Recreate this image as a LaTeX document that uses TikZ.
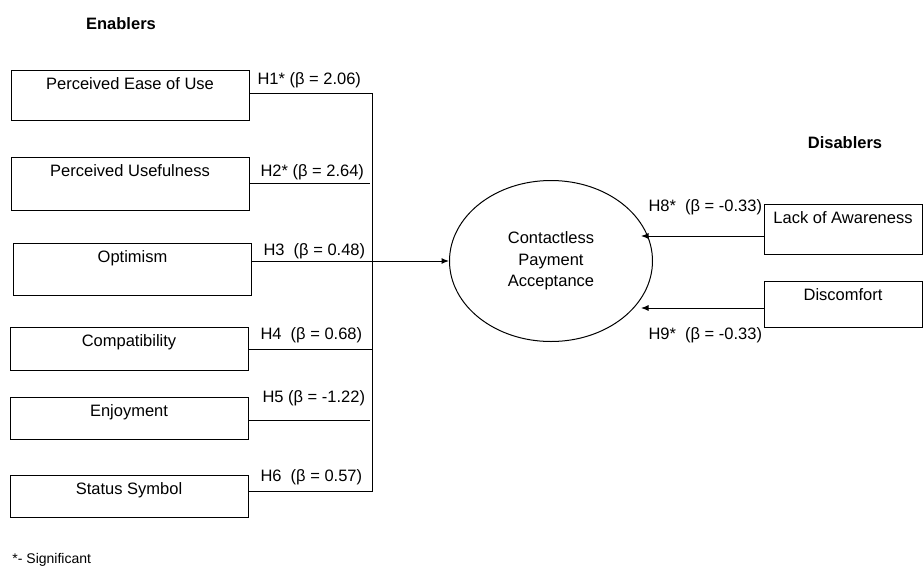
\documentclass[tikz,border=0pt]{standalone}
\usepackage{fontspec}
\setmainfont{Liberation Sans}
\usetikzlibrary{positioning,shapes.geometric,arrows.meta}

\tikzset{
  factor/.style={draw, minimum width=238pt, inner sep=0pt},
  ftext/.style={inner sep=0pt, font=\fontsize{16.5}{19.5}\selectfont},
  hyp/.style={anchor=west, inner sep=0pt, font=\fontsize{16.5}{19.5}\selectfont},
  head/.style={inner sep=0pt, font=\bfseries\fontsize{16.5}{19.5}\selectfont},
  tip/.style={-{Latex[length=7.5pt,width=6pt]}},
}

\begin{document}
\begin{tikzpicture}[x=1pt,y=-1pt,line width=1pt]
\useasboundingbox (0,0) rectangle (924,574);

% headings
\node[head] (enablers) at (121,24) {Enablers};
\node[head] (disablers) at (845,143) {Disablers};
\node[ftext, anchor=west, font=\fontsize{14}{17}\selectfont] (note) at (12,560) {*- Significant};

% enablers
\node[factor, minimum height=50pt] (peou) at (130,95) {};
\node[ftext, below=8pt of peou.north] (peoutext) {Perceived Ease of Use};
\node[factor, minimum height=53pt] (pu) at (130,183.5) {};
\node[ftext, below=8pt of pu.north] (putext) {Perceived Usefulness};
\node[factor, minimum height=52pt] (opt) at (132.5,269) {};
\node[ftext, below=8pt of opt.north] (opttext) {Optimism};
\node[factor, minimum height=43pt] (comp) at (129,348.5) {};
\node[ftext, below=8pt of comp.north] (comptext) {Compatibility};
\node[factor, minimum height=42pt] (enjoy) at (129,418) {};
\node[ftext, below=8pt of enjoy.north] (enjoytext) {Enjoyment};
\node[factor, minimum height=42pt] (status) at (129,496) {};
\node[ftext, below=8pt of status.north] (statustext) {Status Symbol};

% acceptance
\node[draw, ellipse, minimum width=203pt, minimum height=161pt, inner sep=0pt, align=center,
      font=\fontsize{16.5}{21.5}\selectfont] (cpa) at (551,261) {Contactless\\Payment\\Acceptance};

% disablers
\node[factor, minimum width=158pt, minimum height=50pt] (lack) at (843,229) {};
\node[ftext, below=8pt of lack.north] (lacktext) {Lack of Awareness};
\node[factor, minimum width=158pt, minimum height=46pt] (discomf) at (843,304) {};
\node[ftext, below=8pt of discomf.north] (discomftext) {Discomfort};

% paths
\coordinate (bustop) at (372,93);
\coordinate (busbot) at (372,491);
\coordinate (j2) at (370,183);
\coordinate (j4) at (372,349);
\coordinate (j5) at (370,420);
\coordinate (h8) at (641,236);
\coordinate (h9) at (641,308);
\draw (peou.east |- bustop) -- (bustop) -- (busbot) -- (status.east |- busbot);
\draw (pu.east |- j2) -- (j2);
\draw (comp.east |- j4) -- (j4);
\draw (enjoy.east |- j5) -- (j5);
\draw[tip] (opt.east |- cpa.west) -- (cpa.west);
\draw[tip] (lack.west |- h8) -- (h8);
\draw[tip] (discomf.west |- h9) -- (h9);

% hypotheses
\node[hyp] (h1lab) at (257,80) {H1* (β = 2.06)};
\node[hyp] (h2lab) at (260,172) {H2* (β = 2.64)};
\node[hyp] (h3lab) at (263,251) {H3\ \ (β = 0.48)};
\node[hyp] (h4lab) at (260,335) {H4\ \ (β = 0.68)};
\node[hyp] (h5lab) at (262,398) {H5 (β = -1.22)};
\node[hyp] (h6lab) at (260,477) {H6\ \ (β = 0.57)};
\node[hyp] (h8lab) at (648,207) {H8*\ \ (β = -0.33)};
\node[hyp] (h9lab) at (648,335) {H9*\ \ (β = -0.33)};

\end{tikzpicture}
\end{document}
